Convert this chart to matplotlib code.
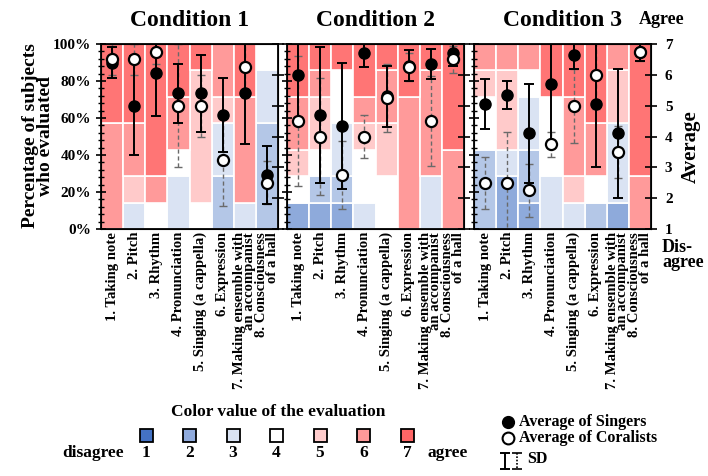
import numpy as np
import matplotlib
matplotlib.use('Agg')
import matplotlib.pyplot as plt
from matplotlib.patches import Rectangle
from matplotlib.ticker import MultipleLocator

# ---- data ----
conditions = ['Condition 1', 'Condition 2', 'Condition 3']
items = ['1. Taking note', '2. Pitch', '3. Rhythm', '4. Pronunciation',
         '5. Singing (a cappella)', '6. Expression',
         '7. Making ensemble with\nan accompanist', '8. Consciousness\nof a hall']
levels = [1, 2, 3, 4, 5, 6, 7]

# number of subjects who chose each level (rows = items, cols = level 1..7)
counts_c1 = [[0, 0, 0, 0, 0, 4, 3],
             [0, 0, 1, 0, 1, 2, 3],
             [0, 0, 0, 1, 0, 1, 5],
             [0, 0, 2, 1, 0, 2, 2],
             [0, 0, 0, 1, 5, 0, 1],
             [0, 2, 2, 0, 1, 2, 0],
             [0, 0, 1, 0, 0, 4, 2],
             [0, 4, 2, 1, 0, 0, 0]]
counts_c2 = [[1, 0, 0, 1, 1, 2, 2],
             [1, 1, 0, 1, 2, 1, 1],
             [1, 1, 2, 2, 0, 0, 1],
             [0, 0, 1, 2, 1, 1, 2],
             [0, 0, 0, 2, 2, 2, 1],
             [0, 0, 0, 0, 0, 5, 2],
             [0, 0, 2, 0, 0, 4, 1],
             [0, 0, 0, 0, 0, 3, 4]]
counts_c3 = [[0, 3, 0, 2, 1, 1, 0],
             [2, 0, 1, 0, 3, 1, 0],
             [1, 2, 2, 1, 0, 1, 0],
             [0, 0, 2, 3, 0, 0, 2],
             [0, 0, 1, 0, 1, 3, 2],
             [0, 1, 0, 1, 0, 2, 3],
             [1, 0, 3, 0, 2, 1, 0],
             [0, 0, 0, 0, 0, 2, 5]]

singers_c1 = [6.4, 5.0, 6.05, 5.4, 5.4, 4.7, 5.4, 2.75]
singers_sd_c1 = [0.5, 1.6, 1.4, 0.95, 1.25, 1.2, 1.65, 0.95]
coral_c1 = [6.5, 6.5, 6.75, 5.0, 5.0, 3.25, 6.25, 2.5]
coral_sd_c1 = [0.5, 0.5, 0.4, 2.0, 1.0, 1.5, 0.8, 0.7]

singers_c2 = [6.0, 4.7, 4.35, 6.7, 5.3, 6.3, 6.35, 6.7]
singers_sd_c2 = [1.5, 2.2, 2.05, 0.45, 1.0, 0.5, 0.5, 0.4]
coral_c2 = [4.5, 4.0, 2.75, 4.0, 5.25, 6.25, 4.5, 6.5]
coral_sd_c2 = [2.1, 1.9, 1.1, 0.7, 1.1, 0.45, 1.45, 0.45]

singers_c3 = [5.05, 5.35, 4.1, 5.7, 6.65, 5.05, 4.1, 6.75]
singers_sd_c3 = [0.8, 0.45, 1.6, 1.9, 0.45, 2.05, 2.1, 0.3]
coral_c3 = [2.5, 2.5, 2.25, 3.75, 5.0, 6.0, 3.5, 6.75]
coral_sd_c3 = [0.85, 1.65, 0.85, 0.4, 1.2, 1.1, 0.85, 0.3]

bar_colors = ['#8eaadb', '#b4c7e7', '#dae3f3', '#ffffff', '#ffcaca', '#ff9a9a', '#ff7575']
legend_colors = ['#4472c4', '#8faadc', '#dae3f3', '#ffffff', '#ffcccc', '#ff9999', '#ff6666']

plt.rcParams['font.family'] = 'Liberation Serif'
plt.rcParams['font.weight'] = 'bold'
plt.rcParams['axes.titleweight'] = 'bold'

W, H = 708, 476
fig = plt.figure(figsize=(W / 100, H / 100), dpi=100)


def px_axes(left, top, width, height, **kw):
    return fig.add_axes([left / W, 1 - (top + height) / H, width / W, height / H], **kw)


def px_text(x, y, s, **kw):
    fig.text(x / W, 1 - y / H, s, **kw)


lefts = [101, 287, 474]
panels = [(counts_c1, singers_c1, singers_sd_c1, coral_c1, coral_sd_c1),
          (counts_c2, singers_c2, singers_sd_c2, coral_c2, coral_sd_c2),
          (counts_c3, singers_c3, singers_sd_c3, coral_c3, coral_sd_c3)]
x = np.arange(len(items))

for i, (cnt, sm, ss, cm, cs) in enumerate(panels):
    ax = px_axes(lefts[i], 44, 177, 185)
    cnt = np.array(cnt, dtype=float)
    pct = cnt / cnt.sum(axis=1, keepdims=True) * 100
    bottom = np.zeros(len(items))
    for k in range(len(levels)):
        h = pct[:, k]
        ax.bar(x, h, bottom=bottom, width=1, color=bar_colors[k],
               edgecolor='white', linewidth=np.where(h > 0, 1.2, 0))
        bottom += h
    ax.set_xlim(-0.5, 7.5)
    ax.set_ylim(0, 100)
    ax.set_yticks(np.arange(0, 101, 20))
    ax.yaxis.set_minor_locator(MultipleLocator(4))
    ax.set_yticklabels([f'{v}%' for v in range(0, 101, 20)], fontsize=11)
    ax.tick_params(axis='y', which='major', direction='inout', length=7, width=1.2)
    ax.tick_params(axis='y', which='minor', direction='inout', length=4, width=1)
    if i > 0:
        ax.tick_params(axis='y', labelleft=False)
    ax.set_xticks(x)
    ax.set_xticklabels(items, rotation=90, fontsize=10.6, ha='center', va='top',
                       multialignment='right', linespacing=0.72)
    ax.tick_params(axis='x', length=0, pad=2)
    for sp in ax.spines.values():
        sp.set_linewidth(1.3)
    ax.set_title(conditions[i], fontsize=17, pad=13)

    ax2 = ax.twinx()
    ax2.set_ylim(1, 7)
    ax2.set_yticks(levels)
    ax2.tick_params(axis='y', direction='inout', length=8, width=1.2, labelsize=11, pad=6)
    if i < 2:
        ax2.tick_params(axis='y', labelright=False)
    eb = ax2.errorbar(x, cm, yerr=cs, fmt='none', ecolor='#6a6a6a', elinewidth=1,
                      capsize=3, capthick=1)
    eb[2][0].set_linestyle((0, (3, 2)))
    ax2.errorbar(x, sm, yerr=ss, fmt='none', ecolor='black', elinewidth=1.4,
                 capsize=3.5, capthick=1.4)
    ax2.plot(x, sm, 'o', color='black', ms=8, clip_on=False)
    ax2.plot(x, cm, 'o', mfc='white', mec='black', mew=1.6, ms=8, clip_on=False)

px_text(38, 136, 'Percentage of subjects\nwho evaluated', rotation=90, ha='center',
        va='center', fontsize=14, linespacing=0.85)
px_text(691, 147, 'Average', rotation=90, ha='center', va='center', fontsize=15)
px_text(662, 20, 'Agree', ha='center', va='center', fontsize=13)
px_text(662, 255, 'Dis-\nagree', ha='left', va='center', fontsize=13, linespacing=0.9)

# ---- legends ----
lg = fig.add_axes([0, 0, 1, 1], zorder=-1)
lg.set_xlim(0, W)
lg.set_ylim(H, 0)
lg.axis('off')

lg.text(278, 412, 'Color value of the evaluation', ha='center', va='center', fontsize=12.5)
for k, (c, lab) in enumerate(zip(legend_colors, levels)):
    cx = 146 + k * 43.5
    lg.add_patch(Rectangle((cx - 6.5, 428.5), 13, 13, fc=c, ec='black', lw=1.3))
    lg.text(cx, 453, str(lab), ha='center', va='center', fontsize=12.5)
lg.text(93, 453, 'disagree', ha='center', va='center', fontsize=12.5)
lg.text(448, 453, 'agree', ha='center', va='center', fontsize=12.5)

lg.plot([508], [422], 'o', color='black', ms=8.5)
lg.text(519, 422, 'Average of Singers', ha='left', va='center', fontsize=11.5)
lg.plot([508], [438], 'o', mfc='white', mec='black', mew=1.5, ms=8.5)
lg.text(519, 438, 'Average of Coralists', ha='left', va='center', fontsize=11.5)
lg.errorbar([505], [461], yerr=8, fmt='none', ecolor='black', elinewidth=1.4,
            capsize=3.5, capthick=1.4)
e2 = lg.errorbar([517], [461], yerr=8, fmt='none', ecolor='black', elinewidth=1.2,
                 capsize=3.5, capthick=1.2)
e2[2][0].set_linestyle((0, (1, 1)))
lg.text(527, 459, 'SD', ha='left', va='center', fontsize=11.5)

fig.savefig('out.png', dpi=100)
